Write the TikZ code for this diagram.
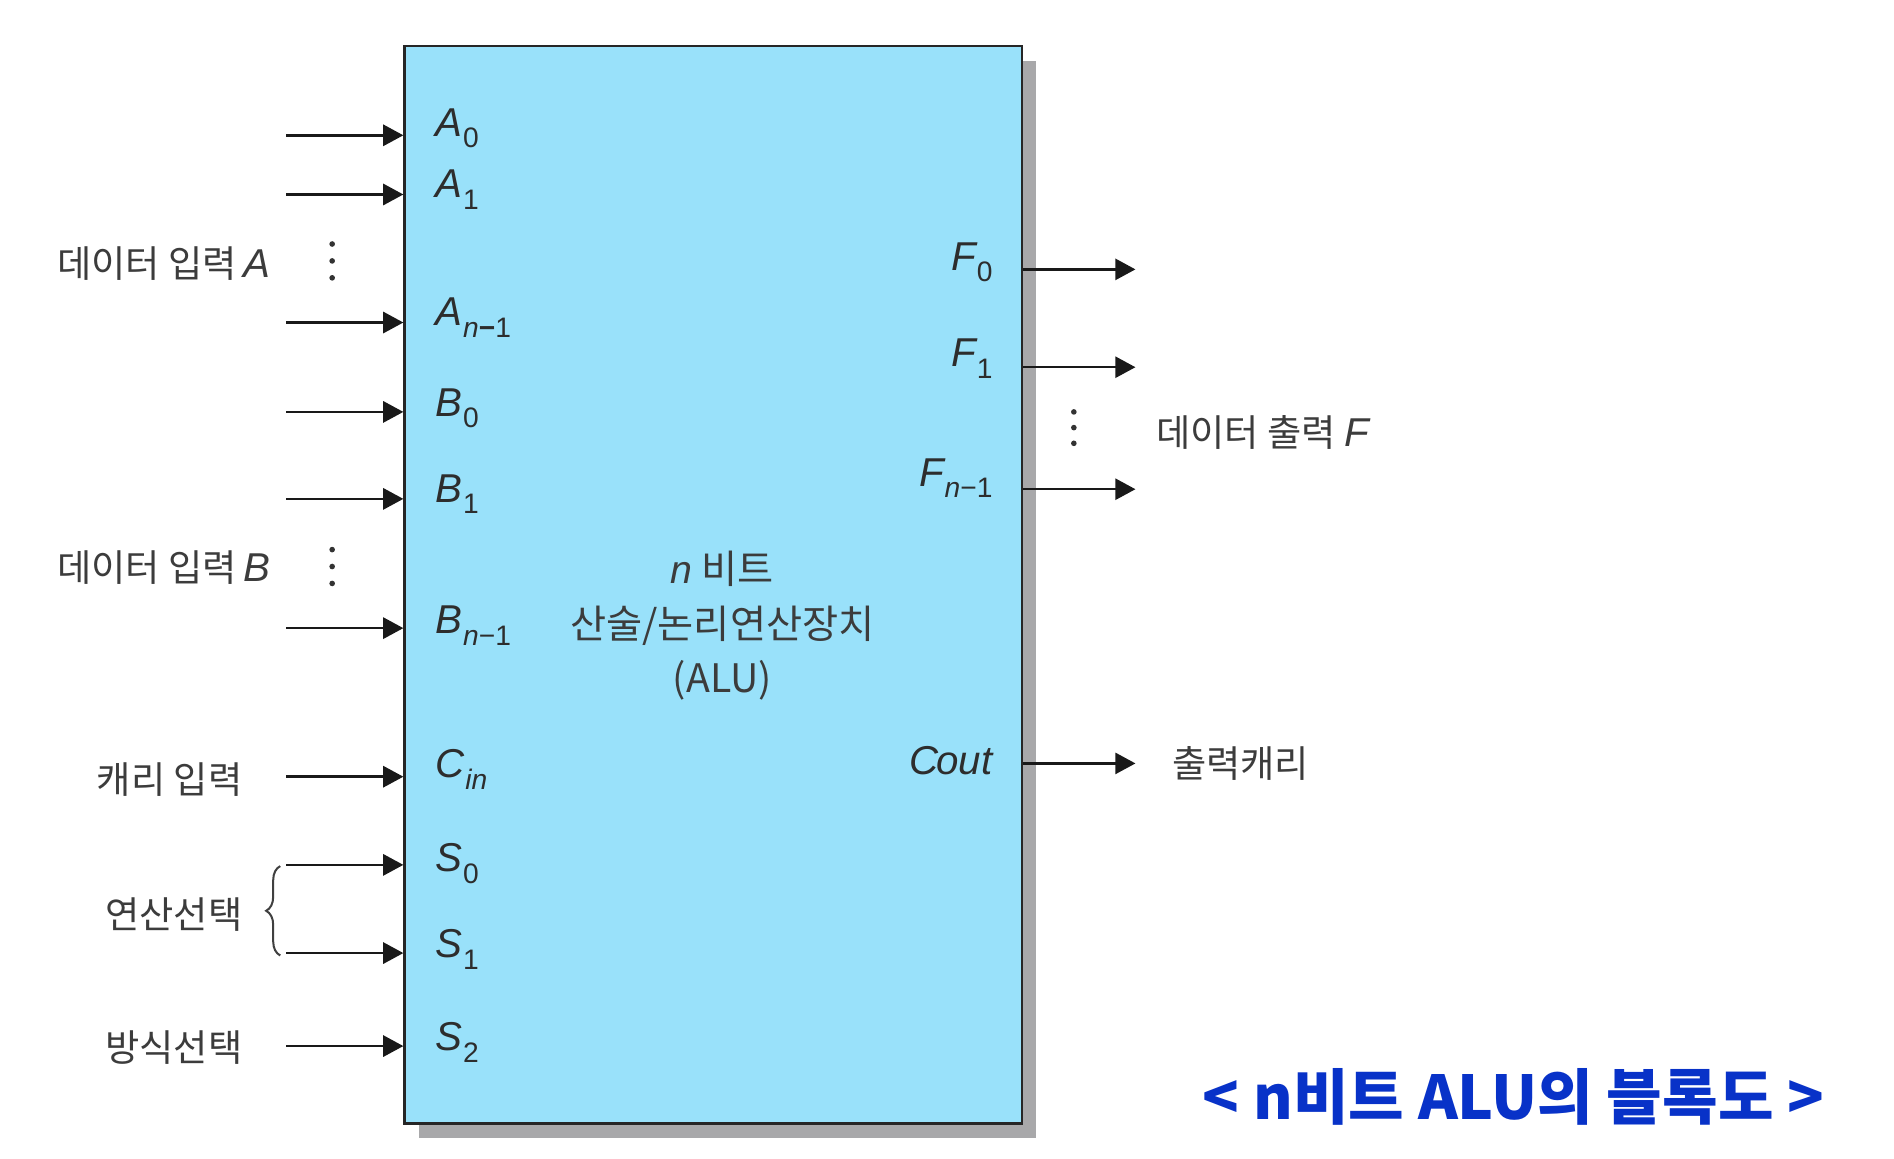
\documentclass[tikz,border=0pt]{standalone}
\usepackage{fontspec}
\setmainfont{Liberation Sans}
\newfontfamily\kr{Noto Sans CJK KR}
\usetikzlibrary{arrows.meta,decorations.pathreplacing}
\definecolor{alublue}{RGB}{153,225,250}
\definecolor{shadowgray}{RGB}{168,168,170}
\definecolor{txt}{RGB}{45,45,45}
\definecolor{krtxt}{RGB}{60,60,60}
\definecolor{capblue}{RGB}{8,50,200}
\newcommand{\pin}[2]{{\itshape #1}\kern0.5pt\raisebox{-0.28em}{\fontsize{14}{14}\selectfont #2}}
\newcommand{\nsub}[1]{{\itshape n}#1}
\begin{document}
\begin{tikzpicture}[x=0.6pt,y=-0.6pt,
  pinl/.style={font=\fontsize{20}{22}\selectfont, text=txt, inner sep=0pt},
  krl/.style={font=\kr\fontsize{18.5}{22}\selectfont, text=krtxt, inner sep=0pt},
  sig/.style={line width=1.2pt, black!90, -{Triangle[length=10pt,width=10.5pt]}},
  dotc/.style={fill=black!80, draw=none, circle, inner sep=0pt, minimum size=2.8pt}
]
\useasboundingbox (0,0) rectangle (1568,959);
\fill[white] (0,0) rectangle (1568,959);
% shadow and box
\node[fill=shadowgray, minimum width=306.6pt, minimum height=535.2pt, inner sep=0pt] (shadow) at (602.5,496.5) {};
\node[fill=alublue, draw=black!85, line width=1.3pt, minimum width=306.6pt, minimum height=535.2pt, inner sep=0pt] (alu) at (590.5,484) {};
% center text
\node[font=\kr\fontsize{19.5}{27}\selectfont, text=krtxt, align=center, inner sep=0pt] (title) at (598,518)
  {{\fontspec{Liberation Sans}\itshape n} 비트\\산술/논리연산장치\\(ALU)};
% left input start coordinates
\foreach \nm/\yy in {a0/112, a1/161, an/267, b0/341, b1/413, bn/520, cin/643, s0/716, s1/789, s2/866} {
  \coordinate (\nm s) at (237,\yy);
  \draw[sig] (\nm s) -- (\nm s -| alu.west);
}
% left pin labels
\node[pinl, anchor=west] (la0) at (360,106) {\pin{A}{0}};
\node[pinl, anchor=west] (la1) at (360,157) {\pin{A}{1}};
\node[pinl, anchor=west] (lan) at (360,263) {\pin{A}{\nsub{\textbf{−}1}}};
\node[pinl, anchor=west] (lb0) at (360,338) {\pin{B}{0}};
\node[pinl, anchor=west] (lb1) at (360,409) {\pin{B}{1}};
\node[pinl, anchor=west] (lbn) at (360,518) {\pin{B}{\nsub{−1}}};
\node[pinl, anchor=west] (lcin) at (360,637) {\pin{C}{\itshape in}};
\node[pinl, anchor=west] (ls0) at (360,715) {\pin{S}{0}};
\node[pinl, anchor=west] (ls1) at (360,786) {\pin{S}{1}};
\node[pinl, anchor=west] (ls2) at (360,863) {\pin{S}{2}};
% right outputs
\foreach \nm/\yy in {f0/223, f1/304, fn/405, cout/632} {
  \coordinate (\nm e) at (940,\yy);
  \draw[sig] (alu.east |- \nm e) -- (\nm e);
}
\node[pinl, anchor=east] (lf0) at (822,217) {\pin{F}{0}};
\node[pinl, anchor=east] (lf1) at (822,297) {\pin{F}{1}};
\node[pinl, anchor=east] (lfn) at (822,396) {\pin{F}{\nsub{−1}}};
\node[pinl, anchor=east] (lcout) at (822,630) {{\itshape C\kern-1pt out}};
% dots
\foreach \yy in {202,216,230} {\node[dotc] at (275,\yy) {};}
\foreach \yy in {455,469,483} {\node[dotc] at (275,\yy) {};}
\foreach \yy in {341,354,367} {\node[dotc] at (889,\yy) {};}
% outside labels
\node[krl, anchor=west] (da) at (47,218) {데이터 입력\,{\fontspec{Liberation Sans}\itshape\fontsize{20}{22}\selectfont A}};
\node[krl, anchor=west] (db) at (47,470) {데이터 입력\,{\fontspec{Liberation Sans}\itshape\fontsize{20}{22}\selectfont B}};
\node[krl, anchor=east] (cr) at (201,645) {캐리 입력};
\node[krl, anchor=east] (op) at (201,757) {연산선택};
\node[krl, anchor=east] (md) at (201,867) {방식선택};
\node[krl, anchor=west] (df) at (957,358) {데이터 출력 {\fontspec{Liberation Sans}\itshape\fontsize{20}{22}\selectfont F}};
\node[krl, anchor=west] (oc) at (970,632) {출력캐리};
% brace
\draw[line width=1pt, black!75, decorate, decoration={brace, amplitude=7pt}] (232,791) -- (232,717);
% caption
\node[font=\kr\bfseries\fontsize{30}{34}\selectfont, text=capblue, inner sep=0pt] (cap) at (1253,908) {< n비트 ALU의 블록도 >};
\end{tikzpicture}
\end{document}
